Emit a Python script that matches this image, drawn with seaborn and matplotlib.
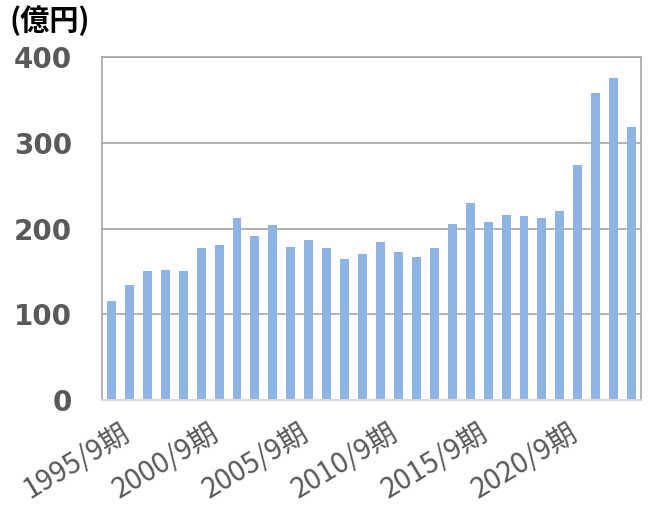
import matplotlib
matplotlib.use("Agg")
import matplotlib.pyplot as plt
import matplotlib.transforms as mtransforms
import seaborn as sns
import numpy as np
import pandas as pd

# 決算期 (9月期) と売上高 (億円)
years = list(range(1995, 2025))
periods = [f"{y}/9期" for y in years]
sales = [115, 134, 151, 152, 150, 178, 181, 212, 191, 204,
         179, 187, 177, 165, 170, 184, 173, 167, 178, 206,
         230, 208, 216, 215, 212, 221, 274, 358, 376, 319]
label_years = [1995, 2000, 2005, 2010, 2015, 2020]

sns.set_theme(style="white")
plt.rcParams['font.family'] = ['DejaVu Sans', 'Noto Sans CJK JP']

df = pd.DataFrame({"period": periods, "sales": sales})

fig = plt.figure(figsize=(6.57, 5.07), dpi=100)
ax = fig.add_axes([0.156, 0.211, 0.819, 0.676])

sns.barplot(data=df, x="period", y="sales", color="#8EB4E3",
            width=0.5, saturation=1, linewidth=0, ax=ax, zorder=2)

ax.set_ylim(0, 400)
ax.set_xlim(-0.5, len(periods) - 0.5)
ax.set_yticks([0, 100, 200, 300, 400])
ax.set_yticklabels([str(v) for v in [0, 100, 200, 300, 400]],
                   fontsize=20, fontweight='bold', color='#595959')
ax.yaxis.grid(True, color='#A6A6A6', linewidth=1.2, zorder=0)
ax.set_axisbelow(True)

idx = [years.index(y) for y in label_years]
ax.set_xticks(idx)
ax.set_xticklabels([periods[i] for i in idx], rotation=31, ha='right',
                   va='top', rotation_mode='anchor', fontsize=20.5,
                   color='#595959',
                   family=['Noto Sans CJK JP', 'DejaVu Sans'])
ax.tick_params(axis='x', length=0, pad=13)
ax.tick_params(axis='y', length=0, pad=22)
# Excelのラベル位置に合わせて少し右へ
shift = mtransforms.ScaledTranslation(8 / 100, 0, fig.dpi_scale_trans)
for lab in ax.get_xticklabels():
    lab.set_transform(lab.get_transform() + shift)

ax.set_xticks(np.arange(-0.5, len(periods), 2.5), minor=True)
ax.tick_params(axis='x', which='minor', direction='in', length=7,
               color='#D9D9D9', width=1)
for t in ax.xaxis.get_minorticklines():
    t.set_zorder(3)

for side in ['left', 'right', 'top']:
    ax.spines[side].set_color('#A6A6A6')
    ax.spines[side].set_linewidth(1.2)
ax.spines['bottom'].set_color('#D9D9D9')
ax.spines['bottom'].set_linewidth(1.5)
ax.spines['bottom'].set_zorder(4)

ax.set_xlabel('')
ax.set_ylabel('')

fig.text(0.014, 0.960, '(億円)', fontsize=21, fontweight='bold',
         color='black', va='center', ha='left',
         family=['Noto Sans CJK JP', 'DejaVu Sans'])

fig.savefig('out.png', dpi=100)
